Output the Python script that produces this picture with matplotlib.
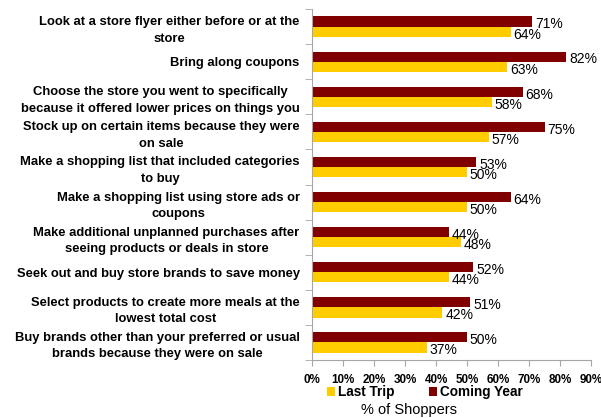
import matplotlib.pyplot as plt
import numpy as np

plt.rcParams['font.family'] = ['Liberation Sans', 'DejaVu Sans']

activities = [
    "Look at a store flyer either before or at the\nstore",
    "Bring along coupons",
    "Choose the store you went to specifically\nbecause it offered lower prices on things you",
    "Stock up on certain items because they were\non sale",
    "Make a shopping list that included categories\nto buy",
    "Make a shopping list using store ads or\ncoupons",
    "Make additional unplanned purchases after\nseeing products or deals in store",
    "Seek out and buy store brands to save money",
    "Select products to create more meals at the\nlowest total cost",
    "Buy brands other than your preferred or usual\nbrands because they were on sale",
]
last_trip = [64, 63, 58, 57, 50, 50, 48, 44, 42, 37]
coming_year = [71, 82, 68, 75, 53, 64, 44, 52, 51, 50]

red = "#800000"
gold = "#FFCC00"
grey = "#A6A6A6"

fig = plt.figure(figsize=(6.01, 4.18), dpi=100)
ax = fig.add_axes([0.5195, 0.1388, 0.464, 0.8395])

y = np.arange(len(activities))
h = 0.29
bars_cy = ax.barh(y - h / 2, coming_year, height=h, color=red, label="Coming Year")
bars_lt = ax.barh(y + h / 2, last_trip, height=h, color=gold, label="Last Trip")

for bar, v in zip(bars_cy, coming_year):
    ax.text(v + 0.9, bar.get_y() + bar.get_height() / 2 + 0.08, f"{v}%",
            va="center", ha="left", fontsize=10)
for bar, v in zip(bars_lt, last_trip):
    ax.text(v + 0.9, bar.get_y() + bar.get_height() / 2 + 0.08, f"{v}%",
            va="center", ha="left", fontsize=10)

ax.set_xlim(0, 90)
ax.set_ylim(len(activities) - 0.5, -0.5)
ax.set_xticks(np.arange(0, 91, 10))
ax.set_xticklabels([f"{t}%" for t in range(0, 91, 10)], fontweight="bold", fontsize=8.4)

ax.set_yticks(y)
ax.set_yticklabels(activities, fontweight="bold", fontsize=9.4)
for lbl in ax.get_yticklabels():
    lbl.set_multialignment("center")
    lbl.set_linespacing(1.5)
ax.set_yticks(np.arange(-0.5, len(activities) + 0.5, 1), minor=True)
ax.tick_params(axis="y", which="major", length=0, pad=9)
ax.tick_params(axis="y", which="minor", length=5, color=grey)
ax.tick_params(axis="x", length=4, color=grey, pad=6)

for side in ("top", "right"):
    ax.spines[side].set_visible(False)
for side in ("left", "bottom"):
    ax.spines[side].set_color(grey)

handles = [bars_lt, bars_cy]
fig.legend(handles, ["Last Trip", "Coming Year"], loc="center",
           bbox_to_anchor=(0.707, 0.062), ncol=2, frameon=False,
           prop={"weight": "bold", "size": 9.8}, handlelength=0.6,
           handleheight=0.6, handletextpad=0.25, columnspacing=2.5,
           borderpad=0, borderaxespad=0)
fig.text(0.681, 0.019, "% of Shoppers", ha="center", va="center", fontsize=10.5)

fig.savefig("out.png", dpi=100)
